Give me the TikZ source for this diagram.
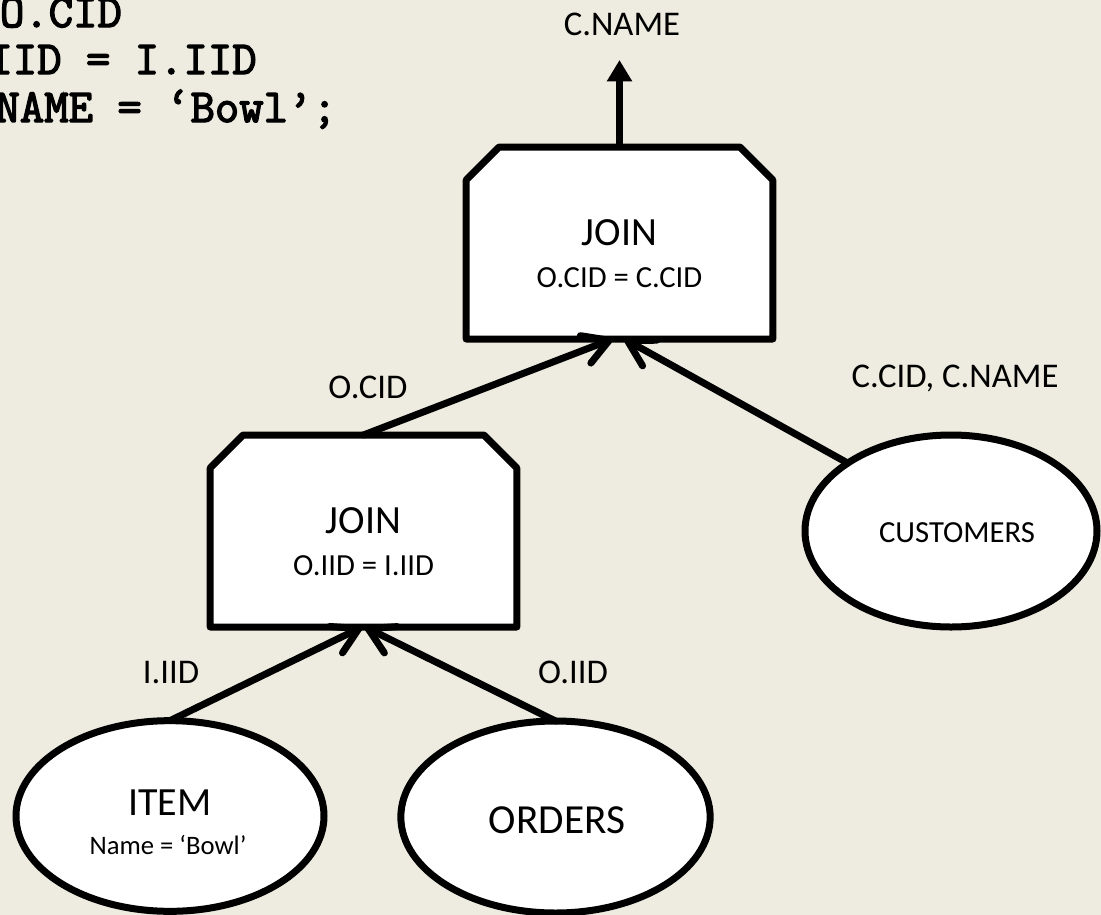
\documentclass[tikz,border=0pt]{standalone}
\usepackage{fontspec}
\setmainfont{Carlito}
\newfontfamily\codefont{Latin Modern Mono}[FakeBold=3]
\usetikzlibrary{arrows.meta,shapes.geometric,calc}
\definecolor{bg}{HTML}{EEECE1}
\begin{document}
\begin{tikzpicture}[x=0.75pt,y=-0.75pt,
  thick line/.style={line width=5.25pt},
  jbox/.style={rectangle, minimum width=230pt, minimum height=144pt, inner sep=0pt, outer sep=0pt},
  boxline/.style={draw=black, fill=white, thick line, line join=round},
  rel/.style={ellipse, inner sep=0pt, outer sep=0pt, draw=black, fill=white, thick line},
  conn/.style={thick line, line cap=round, -{Straight Barb[length=19pt,width=22pt,round]}},
  outarrow/.style={thick line, -{Triangle[length=16pt,width=18pt]}},
  txt/.style={inner sep=0pt, outer sep=0pt, anchor=base},
  lab/.style={txt, font=\fontsize{26pt}{31pt}\selectfont},
  big/.style={txt, font=\fontsize{30pt}{36pt}\selectfont},
  cond/.style={txt, font=\fontsize{23pt}{28pt}\selectfont},
  code/.style={inner sep=0pt, outer sep=0pt, anchor=base west,
    font=\codefont\fontsize{35.5pt}{40pt}\selectfont}
]
\useasboundingbox (0,0) rectangle (1101,915);
\fill[bg] (0,0) rectangle (1101,915);
\clip (0,0) rectangle (1101,915);

% SQL fragment
\node[code] (sql1) at (0,27) {O.CID};
\node[code] (sql2) at (-11.5,74) {IID = I.IID};
\node[code] (sql3) at (-4.5,122) {NAME = ‘Bowl’;};

% operator boxes (chamfered top corners)
\node[jbox] (j1) at (619.5,243) {};
\node[jbox] (j2) at (363.5,531) {};
\foreach \b in {j1,j2}{
  \draw[boxline] (\b.south west) -- ($(\b.north west)+(0,33)$) -- ($(\b.north west)+(33,0)$)
    -- ($(\b.north east)+(-33,0)$) -- ($(\b.north east)+(0,33)$) -- (\b.south east) -- cycle;
}

% relations
\node[rel, minimum width=231pt, minimum height=143pt] (item) at (170,816) {};
\node[rel, minimum width=232pt, minimum height=144pt] (orders) at (555.5,817) {};
\node[rel, minimum width=219pt, minimum height=144pt] (cust) at (951,531) {};

% texts inside
\node[big] (j1a) at (619.5,245) {JOIN};
\node[cond] (j1b) at (619.5,287) {O.CID = C.CID};
\node[big] (j2a) at (363.5,533) {JOIN};
\node[cond] (j2b) at (363.5,575) {O.IID = I.IID};
\node[big] (itema) at (170,815) {ITEM};
\node[txt, font=\fontsize{20pt}{24pt}\selectfont] (itemb) at (168,854) {Name = ‘Bowl’};
\node[big, font=\fontsize{31pt}{36pt}\selectfont] (ordersa) at (557,833) {ORDERS};
\node[cond] (custa) at (957,542) {CUSTOMERS};

% edge labels
\node[lab] (lcname) at (622,35) {C.NAME};
\node[lab] (locid) at (368,398) {O.CID};
\node[lab] (lccid) at (955,387) {C.CID, C.NAME};
\node[lab] (liid) at (171,683) {I.IID};
\node[lab] (loiid) at (573,683) {O.IID};

% connectors
\coordinate (out) at (619.5,60);
\draw[outarrow] (j1.north) -- (out);
\draw[conn] (j2.north) -- ($(j1.south)+(-7,0)$);
\draw[conn] (cust.north west) -- ($(j1.south)+(5,0)$);
\draw[conn] (item.north) -- ($(j2.south)+(-1.5,0)$);
\draw[conn] (orders.north) -- ($(j2.south)+(1.5,0)$);
\end{tikzpicture}
\end{document}
